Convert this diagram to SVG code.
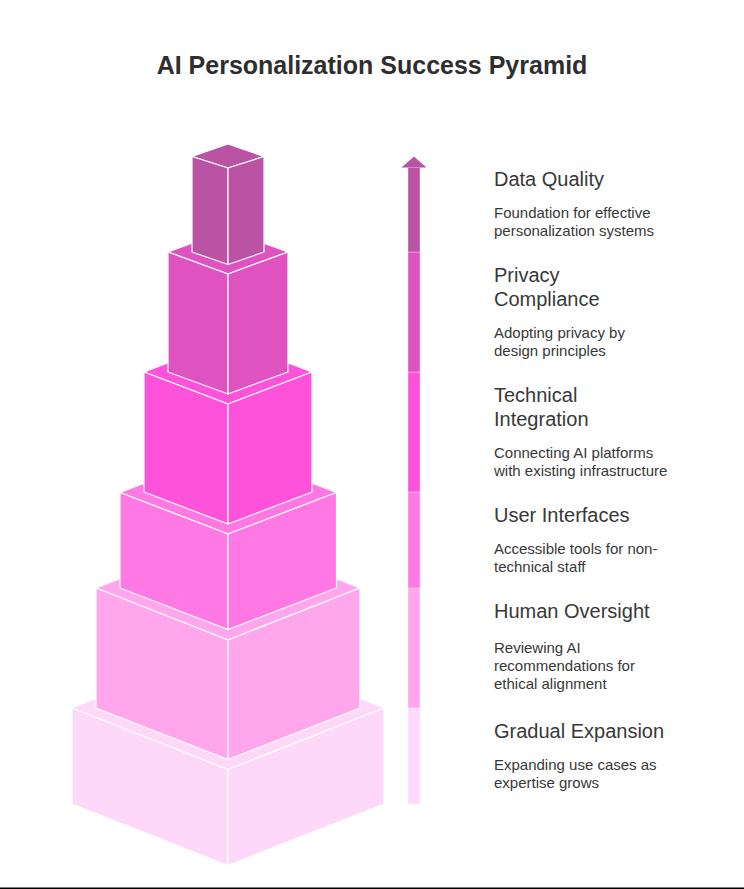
<svg xmlns="http://www.w3.org/2000/svg" width="744" height="889" viewBox="0 0 744 889">
<style>
.f{stroke:#fff;stroke-width:1.2;stroke-linejoin:round}
.t{font-family:"Liberation Sans",Arial,sans-serif;fill:#383838}
.h{font-size:20px}
.d{font-size:15px}
.title{font-family:"Liberation Sans",Arial,sans-serif;font-size:25px;font-weight:700;fill:#2e2e2e}
.c1{fill:#fed8f9}.c2{fill:#ffa6ec}.c3{fill:#ff78e3}.c4{fill:#ff52db}.c5{fill:#df53c1}.c6{fill:#ba53a4}
.bar{stroke:#fff;stroke-opacity:.35;stroke-width:1}
</style>
<rect width="744" height="889" fill="#fff"/>
<text class="title" x="372" y="74" text-anchor="middle">AI Personalization Success Pyramid</text>
<g id="box-gradual-expansion">
<path class="f c1" d="M228 646L384 708L228 769.5L72 708Z"/>
<path class="f c1" d="M72 708L228 769.5V865.5L72 804Z"/>
<path class="f c1" d="M384 708L228 769.5V865.5L384 804Z"/>
</g>
<g id="box-human-oversight">
<path class="f c2" d="M228 536L360 588L228 640L96 588Z"/>
<path class="f c2" d="M96 588L228 640V759.5L96 708Z"/>
<path class="f c2" d="M360 588L228 640V759.5L360 708Z"/>
</g>
<g id="box-user-interfaces">
<path class="f c3" d="M228 451L336.5 492.5L228 534L120 492.5Z"/>
<path class="f c3" d="M120 492.5L228 534V629.5L120 588Z"/>
<path class="f c3" d="M336.5 492.5L228 534V629.5L336.5 588Z"/>
</g>
<g id="box-technical-integration">
<path class="f c4" d="M228 340L312 372L228 404L144 372Z"/>
<path class="f c4" d="M144 372L228 404V524L144 492Z"/>
<path class="f c4" d="M312 372L228 404V524L312 492Z"/>
</g>
<g id="box-privacy-compliance">
<path class="f c5" d="M228 230L288 252L228 274L168 252Z"/>
<path class="f c5" d="M168 252L228 274V394L168 372Z"/>
<path class="f c5" d="M288 252L228 274V394L288 372Z"/>
</g>
<g id="box-data-quality">
<path class="f c6" d="M228 144L264 156.5L228 168L192 156.5Z"/>
<path class="f c6" d="M192 156.5L228 168V264.5L192 252Z"/>
<path class="f c6" d="M264 156.5L228 168V264.5L264 252Z"/>
</g>
<g id="connectors">
<path class="bar c1" d="M408 708H420V804H408Z"/>
<path class="bar c2" d="M408 588H420V708H408Z"/>
<path class="bar c3" d="M408 492H420V588H408Z"/>
<path class="bar c4" d="M408 372H420V492H408Z"/>
<path class="bar c5" d="M408 252H420V372H408Z"/>
<path class="bar c6" d="M408 167.5H420V252H408Z"/>
<path class="c6" d="M414 156.5L426.5 167.5H401.5Z"/>
</g>
<g id="label-data-quality">
<text class="t h" x="494" y="186">Data Quality</text>
<text class="t d" x="494" y="218">Foundation for effective</text>
<text class="t d" x="494" y="236">personalization systems</text>
</g>
<g id="label-privacy-compliance">
<text class="t h" x="494" y="282">Privacy</text>
<text class="t h" x="494" y="306">Compliance</text>
<text class="t d" x="494" y="338">Adopting privacy by</text>
<text class="t d" x="494" y="356">design principles</text>
</g>
<g id="label-technical-integration">
<text class="t h" x="494" y="402">Technical</text>
<text class="t h" x="494" y="426">Integration</text>
<text class="t d" x="494" y="458">Connecting AI platforms</text>
<text class="t d" x="494" y="476">with existing infrastructure</text>
</g>
<g id="label-user-interfaces">
<text class="t h" x="494" y="522">User Interfaces</text>
<text class="t d" x="494" y="554">Accessible tools for non-</text>
<text class="t d" x="494" y="572">technical staff</text>
</g>
<g id="label-human-oversight">
<text class="t h" x="494" y="618">Human Oversight</text>
<text class="t d" x="494" y="653">Reviewing AI</text>
<text class="t d" x="494" y="671">recommendations for</text>
<text class="t d" x="494" y="689">ethical alignment</text>
</g>
<g id="label-gradual-expansion">
<text class="t h" x="494" y="738">Gradual Expansion</text>
<text class="t d" x="494" y="770">Expanding use cases as</text>
<text class="t d" x="494" y="788">expertise grows</text>
</g>
<rect x="0" y="887.5" width="744" height="1.5" fill="#000"/>
</svg>
